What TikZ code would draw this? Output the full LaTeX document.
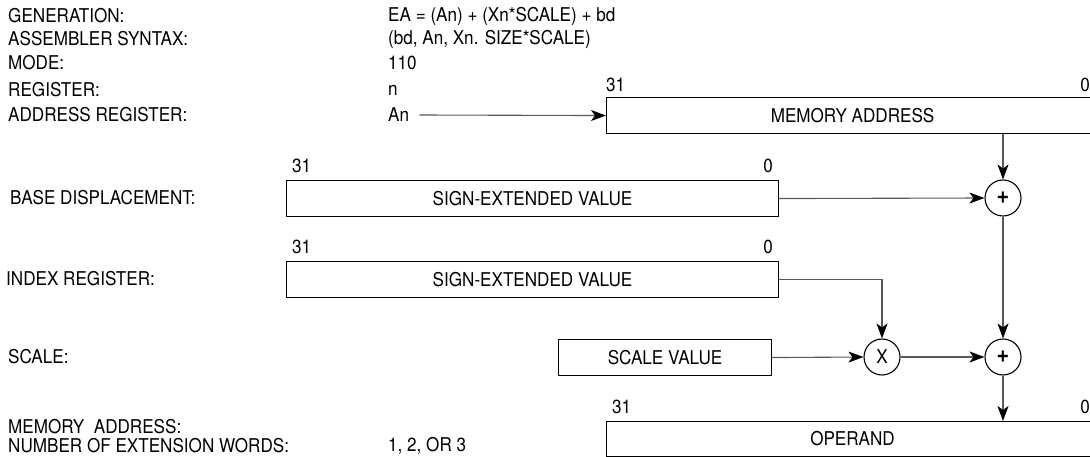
\documentclass[tikz,border=0pt]{standalone}
\usepackage{fontspec}
\setmainfont{TeX Gyre Heros}[FakeStretch=0.9]
\usetikzlibrary{arrows.meta}

\begin{document}
\begin{tikzpicture}[x=1pt,y=-1pt,
  txt/.style={inner sep=0pt, font=\fontsize{19}{22}\selectfont},
  lbl/.style={txt, anchor=west},
  bit/.style={txt},
  reg/.style={draw, line width=1.1pt, minimum height=36pt, inner sep=0pt,
    anchor=north west, font=\fontsize{19}{22}\selectfont},
  opc/.style={circle, draw, line width=1.1pt, minimum size=36pt, inner sep=0pt,
    font=\fontsize{19}{22}\selectfont},
  conn/.style={draw=black!65, line width=1.1pt},
  tip/.style={-{Stealth[length=15pt,width=11pt,inset=4pt,black]}}
]
\useasboundingbox (0,0) rectangle (1090,457);

% header: mode description
\node[lbl] (gen)  at (8,16)  {GENERATION:};
\node[lbl] (asm)  at (8,39)  {ASSEMBLER SYNTAX:};
\node[lbl] (mode) at (8,63)  {MODE:};
\node[lbl] (regn) at (8,90)  {REGISTER:};
\node[lbl] (areg) at (8,115) {ADDRESS REGISTER:};
\node[lbl] (genv)  at (388,16)  {EA = (An) + (Xn*SCALE) + bd};
\node[lbl] (asmv)  at (388,39)  {(bd, An, Xn. SIZE*SCALE)};
\node[lbl] (modev) at (388,63)  {110};
\node[lbl] (regv)  at (388,90)  {n};
\node[lbl] (an)    at (388,115) {An};

% row labels
\node[lbl] (bdl) at (10,198) {BASE DISPLACEMENT:};
\node[lbl] (irl) at (6,279)  {INDEX REGISTER:};
\node[lbl] (scl) at (8,357)  {SCALE:};
\node[lbl] (mal) at (8,427)  {MEMORY\ \ ADDRESS:};
\node[lbl] (nxl) at (8,446)  {NUMBER OF EXTENSION WORDS:};
\node[lbl] (nxv) at (388,446) {1, 2, OR 3};

% registers
\node[reg, minimum width=492pt] (ma) at (606,97)  {MEMORY ADDRESS};
\node[reg, minimum width=492pt] (bd) at (286,180) {SIGN-EXTENDED VALUE};
\node[reg, minimum width=492pt] (ir) at (286,261) {SIGN-EXTENDED VALUE};
\node[reg, minimum width=213pt] (sc) at (558,339) {SCALE VALUE};
\node[reg, minimum width=492pt, minimum height=35pt] (op) at (606,421) {OPERAND};

% bit numbers
\node[bit, anchor=south west] (ma31) at ([yshift=5pt]ma.north west) {31};
\node[bit, anchor=south east] (ma0)  at (1090,92) {0};
\node[bit, anchor=south west] (bd31) at ([xshift=6pt,yshift=7pt]bd.north west) {31};
\node[bit, anchor=south east] (bd0)  at ([xshift=-6pt,yshift=7pt]bd.north east) {0};
\node[bit, anchor=south west] (ir31) at ([xshift=6pt,yshift=7pt]ir.north west) {31};
\node[bit, anchor=south east] (ir0)  at ([xshift=-6pt,yshift=7pt]ir.north east) {0};
\node[bit, anchor=south west] (op31) at ([xshift=6pt,yshift=7pt]op.north west) {31};
\node[bit, anchor=south east] (op0)  at (1090,414) {0};

% operators
\node[opc, font=\fontsize{24}{24}\selectfont\bfseries] (p1) at (1003,198) {+};
\node[opc] (mx) at (882,357)  {X};
\node[opc, font=\fontsize{24}{24}\selectfont\bfseries] (p2) at (1003,357) {+};

% data paths
\draw[conn,tip] ([xshift=10pt]an.east) -- (ma.west);
\draw[conn,tip] (ma.south -| p1.north) -- (p1.north);
\draw[conn,tip] (bd.east) -- (p1.west);
\draw[conn,tip] (ir.east) -| (mx.north);
\draw[conn,tip] (sc.east) -- (mx.west);
\draw[conn,tip] (mx.east) -- (p2.west);
\draw[conn,tip] (p1.south) -- (p2.north);
\draw[conn,tip] (p2.south) -- (op.north -| p2.south);
\end{tikzpicture}
\end{document}
